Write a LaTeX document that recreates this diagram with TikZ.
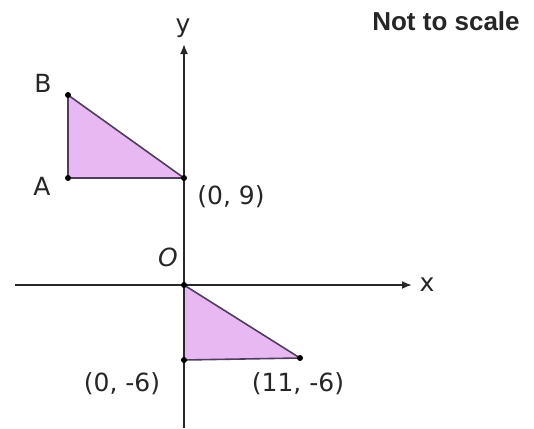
\documentclass[tikz,border=0pt]{standalone}
\usepackage{fontspec}
\setmainfont{DejaVu Sans}
\newfontfamily\notefont{Liberation Sans}
\usetikzlibrary{arrows.meta}
\definecolor{trifill}{RGB}{232,184,242}
\definecolor{triedge}{RGB}{80,60,95}
\definecolor{axiscol}{RGB}{40,40,40}
\tikzset{
  axis/.style={draw=axiscol, line width=1.8pt, -{Latex[length=10pt,width=8pt]}},
  tri/.style={fill=trifill, draw=triedge, line width=1.6pt, line join=round},
  pt/.style={circle, fill=black, inner sep=0pt, minimum size=6pt},
  lbl/.style={font=\fontsize{25}{29}\selectfont, text=black!85, inner sep=1pt},
}
\begin{document}
\begin{tikzpicture}[x=1pt,y=-1pt]
\useasboundingbox (0,0) rectangle (534,428);
% axes
\coordinate (xs) at (15,285);
\coordinate (xe) at (412,285);
\coordinate (ys) at (184,428);
\coordinate (ye) at (184,44);
% triangle vertices
\coordinate (B) at (68,95);
\coordinate (A) at (68,178);
\coordinate (P) at (184,178);
\coordinate (O) at (184,285);
\coordinate (Q) at (184,360);
\coordinate (R) at (300,358);
\draw[tri] (A) -- (B) -- (P) -- cycle;
\draw[tri] (O) -- (R) -- (Q) -- cycle;
\draw[axis] (xs) -- (xe);
\draw[axis] (ys) -- (ye);
\foreach \p in {A,B,P,O,Q,R} \node[pt] at (\p) {};
% labels
\node[lbl] (lx) at (427,285) {x};
\node[lbl] (ly) at (183,28) {y};
\node[lbl] (lB) at (43,83) {B};
\node[lbl] (lA) at (42,186) {A};
\node[lbl] (lP) at (231,197) {(0, 9)};
\node[lbl] (lO) at (168,257) {\itshape O};
\node[lbl] (lQ) at (122,384) {(0, -6)};
\node[lbl] (lR) at (298,384) {(11, -6)};
\node[font=\notefont\bfseries\fontsize{26}{30}\selectfont, text=black!85, inner sep=0pt] (note) at (446,21) {Not to scale};
\end{tikzpicture}
\end{document}
